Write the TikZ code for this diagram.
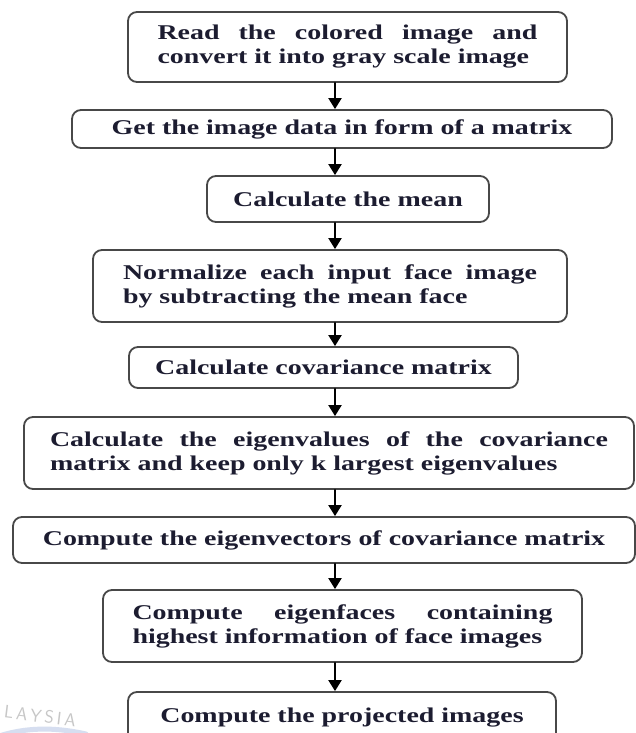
\documentclass[tikz,border=0pt]{standalone}
\usepackage{fontspec}
\usetikzlibrary{arrows.meta}

\newfontfamily\flowfont[FakeStretch=1.33]{Liberation Serif}
\definecolor{inkc}{RGB}{28,28,48}
\definecolor{edgec}{RGB}{72,72,72}
\newcommand{\spreadline}[2]{\makebox[#1][s]{\spaceskip=.25em plus 1fil\relax #2}}

\begin{document}
\begin{tikzpicture}[x=1pt, y=-1pt, line cap=round, line join=round,
  stage/.style={draw=edgec, line width=1.8pt, rounded corners=9pt, fill=white,
    inner sep=0pt, text=inkc, font=\flowfont\bfseries\fontsize{21}{24}\selectfont},
  flow/.style={line width=2pt, -{Triangle[width=13pt,length=11pt]}}]

  \fill[white] (0,0) rectangle (635,733);

  %% ════ 框 ════
  \node[stage, minimum width=439pt, minimum height=70pt, text width=380pt, align=left]
    (read) at (347.5,47) {\spreadline{380pt}{Read the colored image and}\\convert it into gray scale image};
  \node[stage, minimum width=540pt, minimum height=38pt] (getdata) at (342,129)
    {Get the image data in form of a matrix};
  \node[stage, minimum width=282pt, minimum height=46pt] (mean) at (348,199)
    {Calculate the mean};
  \node[stage, minimum width=474pt, minimum height=72pt, text width=414pt, align=left]
    (normal) at (330,286) {\spreadline{414pt}{Normalize each input face image}\\by subtracting the mean face};
  \node[stage, minimum width=389pt, minimum height=41pt] (cov) at (323.5,367.5)
    {Calculate covariance matrix};
  \node[stage, minimum width=610pt, minimum height=72pt, text width=558pt, align=left]
    (eigval) at (329,453) {\spreadline{558pt}{Calculate the eigenvalues of the covariance}\\matrix and keep only k largest eigenvalues};
  \node[stage, minimum width=622pt, minimum height=46pt] (eigvec) at (324,540)
    {Compute the eigenvectors of covariance matrix};
  \node[stage, minimum width=479pt, minimum height=72pt, text width=420pt, align=left]
    (eigface) at (342.5,626) {\spreadline{420pt}{Compute eigenfaces containing}\\highest information of face images};
  \node[stage, minimum width=428pt, minimum height=52pt] (proj) at (342,718)
    {Compute the projected images};

  %% ════ 箭头 ════
  \coordinate (spine) at (335,0);
  \foreach \a/\b in {read/getdata, getdata/mean, mean/normal, normal/cov,
      cov/eigval, eigval/eigvec, eigvec/eigface, eigface/proj}{
    \draw[flow] (\a.south -| spine) -- (\b.north -| spine);
  }

  %% ════ 水印 ════
  \draw[color={rgb,255:red,214;green,222;blue,240}, line width=5pt]
    (-4,737) .. controls (25,727) and (55,727) .. (86,734);
  \node[text=black!22, rotate=-7, inner sep=0pt,
        font=\sffamily\fontsize{18}{18}\selectfont] (wmark) at (40,716) {L\,A\,Y\,S\,I\,A};

  \pgfresetboundingbox
  \path[use as bounding box] (0,0) rectangle (635,733);
\end{tikzpicture}
\end{document}
